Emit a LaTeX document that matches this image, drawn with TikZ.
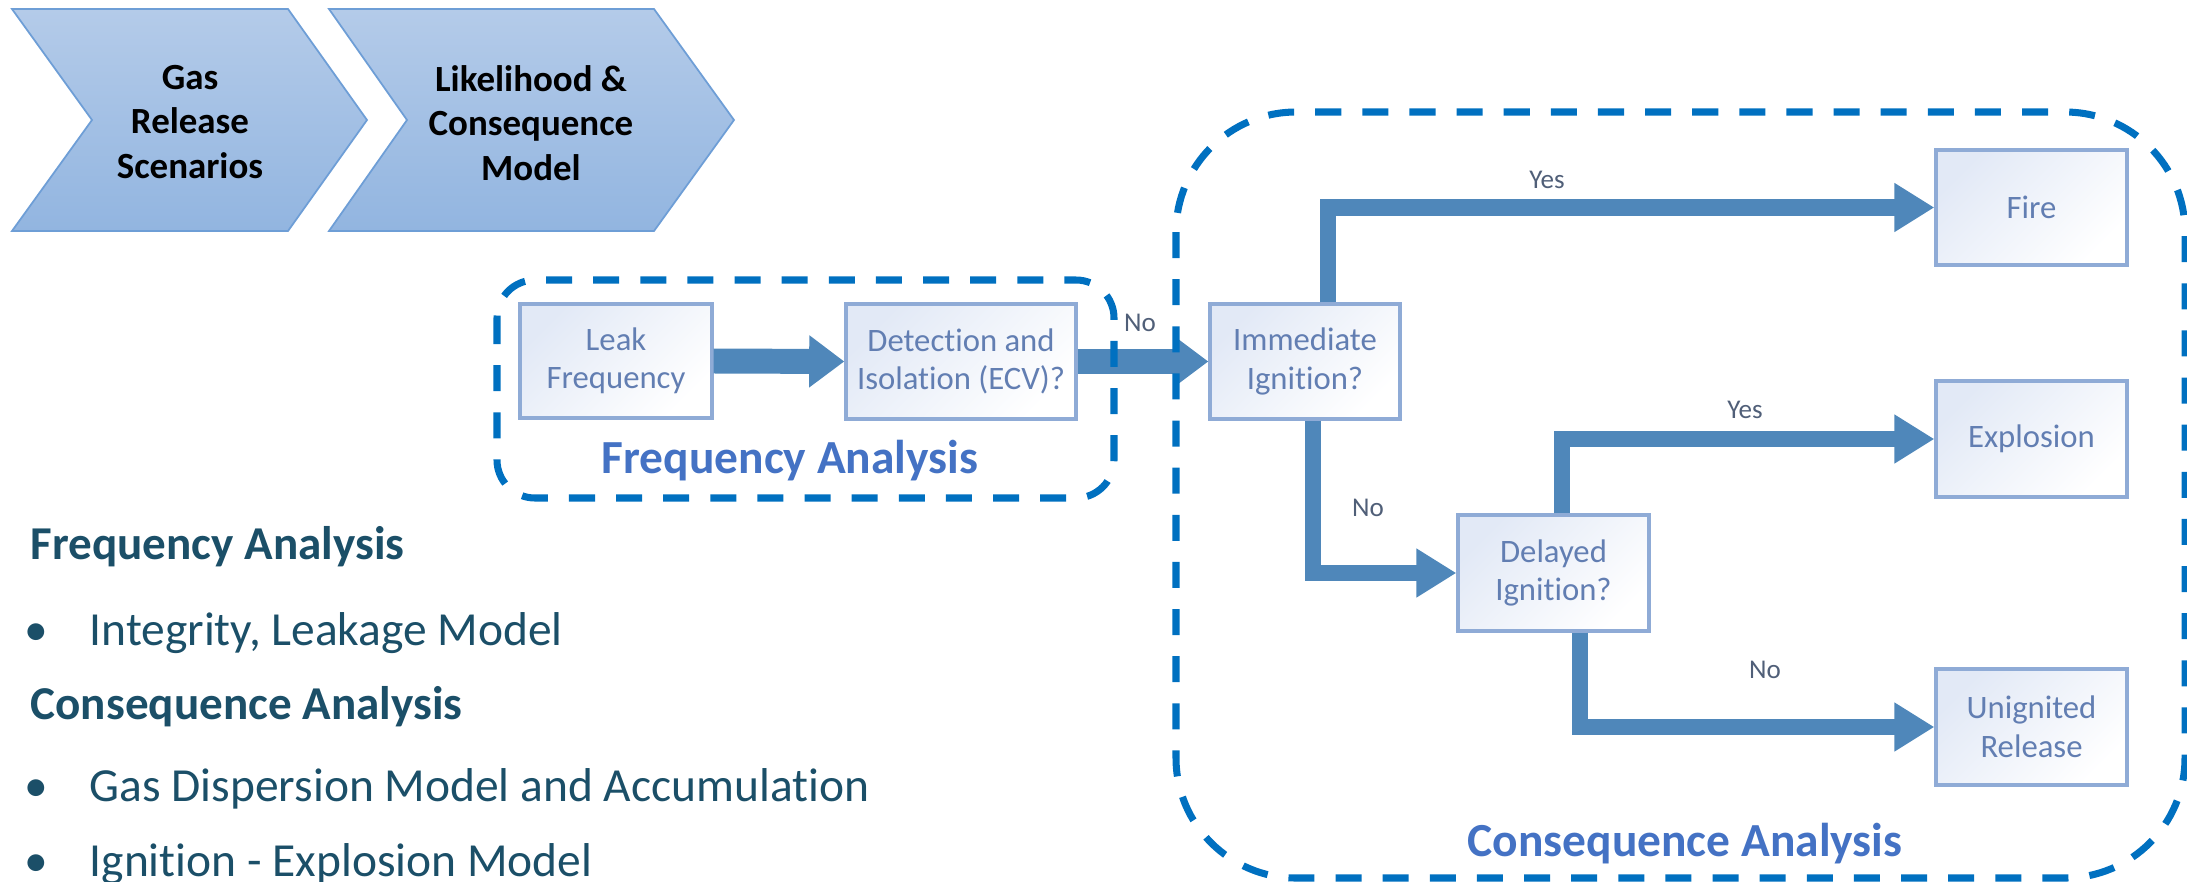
\documentclass[tikz,border=0pt]{standalone}
\usepackage{fontspec}
\setmainfont{Carlito}[RawFeature={-liga;-clig;-calt;-dlig}]
\usetikzlibrary{arrows.meta,shadows}
\definecolor{dashblue}{RGB}{0,112,192}
\definecolor{framelbl}{RGB}{68,114,196}
\definecolor{darkteal}{RGB}{27,79,104}
\definecolor{arrowblue}{RGB}{79,135,186}
\definecolor{boxtext}{RGB}{98,126,178}
\definecolor{boxedge}{RGB}{143,171,214}
\definecolor{boxA}{RGB}{226,233,246}
\definecolor{lbltext}{RGB}{80,95,120}
\definecolor{chevA}{RGB}{180,203,233}
\definecolor{chevB}{RGB}{146,181,224}
\definecolor{chevedge}{RGB}{110,158,214}
\tikzset{
  flowbox/.style={draw=boxedge, line width=0.9pt, top color=boxA, bottom color=white, shading angle=45,
    align=center, inner sep=0pt, text=boxtext,
    font=\fontsize{9.3pt}{10.95pt}\selectfont,
    drop shadow={opacity=0.12, shadow xshift=0.6pt, shadow yshift=-0.6pt}},
  thickarrow/.style={draw=arrowblue, line width=7.1pt, line cap=butt,
    -{Triangle[width=14.2pt, length=10pt]}, arrowblue},
  thinarrow/.style={draw=arrowblue, line width=4.6pt, line cap=butt, line join=miter,
    -{Triangle[width=13.2pt, length=11.4pt]}, arrowblue},
  lbl/.style={text=lbltext, font=\fontsize{7.7pt}{9pt}\selectfont, inner sep=0pt},
  frame/.style={draw=dashblue, line width=2pt, dash pattern=on 7.4pt off 6pt},
  framelabel/.style={text=framelbl, font=\bfseries\fontsize{13.5pt}{16pt}\selectfont, inner sep=0pt, anchor=base},
  chevron/.style={draw=chevedge, line width=0.5pt, top color=chevA, bottom color=chevB},
  chevtext/.style={align=center, font=\bfseries\fontsize{10.5pt}{12.66pt}\selectfont, text=black, inner sep=0pt},
  lefthead/.style={text=darkteal, font=\bfseries\fontsize{13.4pt}{16pt}\selectfont, inner sep=0pt, anchor=base west},
  lefttext/.style={text=darkteal, font=\fontsize{13.5pt}{16pt}\selectfont, inner sep=0pt, anchor=base west},
  leftbullet/.style={text=darkteal, font=\fontsize{13.5pt}{16pt}\selectfont, inner sep=0pt, anchor=base}
}
\begin{document}
\begin{tikzpicture}[x=0.01cm,y=-0.01cm]
\useasboundingbox (0,0) rectangle (2187,881);

% chevrons
\draw[chevron] (12,9) -- (288,9) -- (367,120) -- (288,231) -- (12,231) -- (92,120) -- cycle;
\draw[chevron] (329,9) -- (654,9) -- (734,120) -- (654,231) -- (329,231) -- (407,120) -- cycle;
\node[chevtext] (chev1) at (190,122) {Gas\\Release\\Scenarios};
\node[chevtext] (chev2) at (531,123) {Likelihood \&\\Consequence\\Model};

% flow boxes
\node[flowbox, minimum width=1.92cm, minimum height=1.14cm] (leak) at (616,361) {Leak\\Frequency};
\node[flowbox, minimum width=2.30cm, minimum height=1.15cm] (det) at (961,361.5) {Detection and\\Isolation (ECV)?};
\node[flowbox, minimum width=1.90cm, minimum height=1.15cm] (imm) at (1305,361.5) {Immediate\\Ignition?};
\node[flowbox, minimum width=1.91cm, minimum height=1.15cm] (fire) at (2031.5,207.5) {Fire};
\node[flowbox, minimum width=1.91cm, minimum height=1.16cm] (expl) at (2031.5,439) {Explosion};
\node[flowbox, minimum width=1.91cm, minimum height=1.16cm] (del) at (1553.5,573) {Delayed\\Ignition?};
\node[flowbox, minimum width=1.91cm, minimum height=1.16cm] (unig) at (2031.5,727) {Unignited\\Release};

% arrows
\draw[thickarrow] (leak.east) -- (det.west);
\draw[thickarrow] (det.east) -- (imm.west);
\draw[thinarrow] ([xshift=0.23cm]imm.north) |- (fire.west);
\draw[thinarrow] ([xshift=0.08cm]imm.south) |- (del.west);
\draw[thinarrow] ([xshift=0.085cm]del.north) |- (expl.west);
\draw[thinarrow] ([xshift=0.265cm]del.south) |- (unig.west);

% arrow labels
\node[lbl] (no1) at (1140,323) {No};
\node[lbl] (yes1) at (1547,180) {Yes};
\node[lbl] (no2) at (1368,508) {No};
\node[lbl] (yes2) at (1745,410) {Yes};
\node[lbl] (no3) at (1765,670) {No};

% dashed frames
\draw[frame, rounded corners=1.2cm] (1176,112) rectangle (2185,878);
\draw[frame, rounded corners=0.38cm] (497,280) rectangle (1114,498);
\node[framelabel] (freqlbl) at (790,473) {Frequency Analysis};
\node[framelabel] (conslbl) at (1685,856) {Consequence Analysis};

% left text
\node[lefthead] (h1) at (30,559) {Frequency Analysis};
\node[leftbullet] (b1) at (36,645) {•};
\node[lefttext] (t1) at (89,645) {Integrity, Leakage Model};
\node[lefthead] (h2) at (30,719) {Consequence Analysis};
\node[leftbullet] (b2) at (36,801) {•};
\node[lefttext] (t2) at (89,801) {Gas Dispersion Model and Accumulation};
\node[leftbullet] (b3) at (36,876) {•};
\node[lefttext] (t3) at (89,876) {Ignition - Explosion Model};
\end{tikzpicture}
\end{document}
